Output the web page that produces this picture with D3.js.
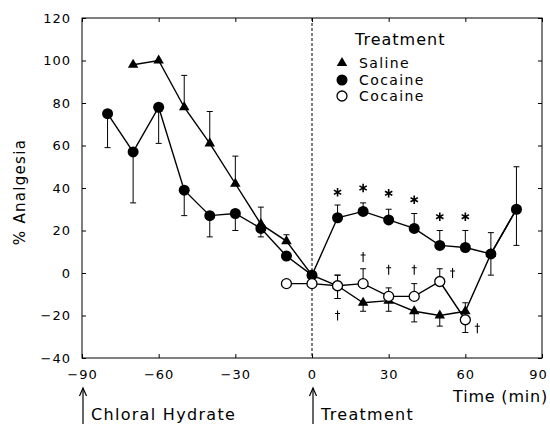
<!DOCTYPE html>
<meta charset="utf-8">
<style>
body { margin: 0; background: #fff; }
text { font-family: 'DejaVu Sans', sans-serif; fill: #000; }
.tick text { font-size: 13px; letter-spacing: 1px; }
.tick line { stroke: #000; }
</style>
<body>
<svg width="550" height="424"></svg>
<script src="https://cdn.jsdelivr.net/npm/d3@7"></script>
<script>

// tick labels
var xTicks = [-90, -60, -30, 0, 30, 60, 90];
var yTicks = [-40, -20, 0, 20, 40, 60, 80, 100, 120];

// saline (filled triangles)
var salineTime = [-70, -60, -50, -40, -30, -20, -10, 0, 10, 20, 30, 40, 50, 60, 70, 80];
var salineVal  = [98, 100, 78, 61, 42, 23, 15, -1, -6, -14, -13, -18, -20, -18, 9, 30];
var salineUp   = [0, 0, 15, 15, 13, 8, 3, 0, 5, 0, 0, 0, 0, 4, 0, 0];
var salineDown = [0, 0, 0, 0, 0, 0, 0, 0, 6, 4, 5, 5, 5, 0, 10, 0];

// cocaine (filled circles)
var cocaineTime = [-80, -70, -60, -50, -40, -30, -20, -10, 0, 10, 20, 30, 40, 50, 60, 70, 80];
var cocaineVal  = [75, 57, 78, 39, 27, 28, 21, 8, -1, 26, 29, 25, 21, 13, 12, 9, 30];
var cocaineUp   = [0, 0, 0, 0, 0, 0, 0, 0, 0, 6, 4, 5, 7, 7, 8, 10, 20];
var cocaineDown = [16, 24, 17, 12, 10, 8, 4, 0, 0, 0, 0, 0, 0, 0, 0, 0, 17];

// cocaine (open circles)
var openTime = [-10, 0, 10, 20, 30, 40, 50, 60];
var openVal  = [-5, -5, -6, -5, -11, -11, -4, -22];
var openUp   = [0, 0, 5, 7, 4, 6, 6, 0];
var openDown = [0, 0, 6, 0, 0, 0, 0, 6];

// significance marks
var starTime = [10, 20, 30, 40, 50, 60];
var starVal  = [38, 40, 37.5, 34.5, 26.5, 26.5];
var daggerTime = [10, 20, 30, 40, 55, 64.7];
var daggerVal  = [-20, 7.5, 1.5, 1.5, 0, -26];

var legendLabels = ["Saline", "Cocaine", "Cocaine"];

var svg = d3.select("svg");
var pl = 82, pr = 542, pt = 18, pb = 358;

var x = d3.scaleLinear().domain([-90, 90]).range([pl, pr]);
var y = d3.scaleLinear().domain([-40, 120]).range([pb, pt]);

var fmt = function(d) { return d < 0 ? "\u2212" + Math.abs(d) : d; };

// axes, ticks pointing in
var xg = svg.append("g").attr("transform", "translate(0," + pb + ")")
    .call(d3.axisBottom(x).tickValues(xTicks).tickFormat(fmt).tickSize(-4).tickPadding(12))
    .call(function(g) { g.select(".domain").remove(); });
xg.selectAll(".tick text").filter(function(d) { return d === 90; }).attr("dx", -4);
svg.append("g").attr("transform", "translate(0," + pt + ")")
    .call(d3.axisTop(x).tickValues(xTicks).tickFormat("").tickSize(-4))
    .call(function(g) { g.select(".domain").remove(); });
svg.append("g").attr("transform", "translate(" + pl + ",0)")
    .call(d3.axisLeft(y).tickValues(yTicks).tickFormat(fmt).tickSize(-4).tickPadding(11))
    .call(function(g) { g.select(".domain").remove(); });
svg.append("g").attr("transform", "translate(" + pr + ",0)")
    .call(d3.axisRight(y).tickValues(yTicks).tickFormat("").tickSize(-4))
    .call(function(g) { g.select(".domain").remove(); });

svg.selectAll("text").attr("font-family", "DejaVu Sans");

svg.append("rect")
    .attr("x", pl).attr("y", pt)
    .attr("width", pr - pl).attr("height", pb - pt)
    .attr("fill", "none").attr("stroke", "#000").attr("stroke-width", 1);

// dashed line at treatment
svg.append("line")
    .attr("x1", x(0)).attr("x2", x(0))
    .attr("y1", pt).attr("y2", pb)
    .attr("stroke", "#000").attr("stroke-dasharray", "3,2");

function series(time, val, up, down) {
  return time.map(function(t, i) { return {t: t, v: val[i], up: up[i], down: down[i]}; });
}
var saline = series(salineTime, salineVal, salineUp, salineDown);
var cocaine = series(cocaineTime, cocaineVal, cocaineUp, cocaineDown);
var open = series(openTime, openVal, openUp, openDown);

var line = d3.line().x(function(d) { return x(d.t); }).y(function(d) { return y(d.v); });

function errorBars(data) {
  var g = svg.append("g").attr("stroke", "#000").attr("stroke-width", 1);
  data.forEach(function(d) {
    [d.up, -d.down].forEach(function(e) {
      if (!e) return;
      var ye = y(d.v + e);
      g.append("line").attr("x1", x(d.t)).attr("x2", x(d.t)).attr("y1", y(d.v)).attr("y2", ye);
      g.append("line").attr("x1", x(d.t) - 3).attr("x2", x(d.t) + 3).attr("y1", ye).attr("y2", ye);
    });
  });
}

errorBars(saline);
errorBars(cocaine);
errorBars(open);

[saline, cocaine, open].forEach(function(s) {
  svg.append("path").datum(s)
      .attr("d", line)
      .attr("fill", "none").attr("stroke", "#000").attr("stroke-width", 1.4);
});

var tri = d3.symbol().type(d3.symbolTriangle).size(48);

svg.append("g").selectAll("path").data(saline).enter().append("path")
    .attr("d", tri)
    .attr("transform", function(d) { return "translate(" + x(d.t) + "," + y(d.v) + ")"; })
    .attr("fill", "#000");

svg.append("g").selectAll("circle").data(cocaine).enter().append("circle")
    .attr("cx", function(d) { return x(d.t); })
    .attr("cy", function(d) { return y(d.v); })
    .attr("r", 5.5).attr("fill", "#000");

svg.append("g").selectAll("circle").data(open).enter().append("circle")
    .attr("cx", function(d) { return x(d.t); })
    .attr("cy", function(d) { return y(d.v); })
    .attr("r", 5).attr("fill", "#fff").attr("stroke", "#000").attr("stroke-width", 1.3);

// asterisks and daggers
var star = d3.symbol().type(d3.symbolAsterisk).size(50);
svg.append("g").selectAll("path").data(starTime).enter().append("path")
    .attr("d", star)
    .attr("transform", function(d, i) { return "translate(" + x(d) + "," + y(starVal[i]) + ")"; })
    .attr("fill", "none").attr("stroke", "#000").attr("stroke-width", 1.6);

// dagger drawn as a small cross
svg.append("g").selectAll("path").data(daggerTime).enter().append("path")
    .attr("transform", function(d, i) { return "translate(" + x(d) + "," + y(daggerVal[i]) + ")"; })
    .attr("d", "M0,-5V5M-2.5,-2H2.5")
    .attr("fill", "none").attr("stroke", "#000").attr("stroke-width", 1.1);

// legend
var lg = svg.append("g");
lg.append("text").attr("x", 355).attr("y", 45)
    .attr("font-size", 16).attr("letter-spacing", 1).text("Treatment");
var ly = [63, 80, 96];
lg.append("path").attr("d", tri).attr("transform", "translate(342," + ly[0] + ")").attr("fill", "#000");
lg.append("circle").attr("cx", 342).attr("cy", ly[1]).attr("r", 5.5).attr("fill", "#000");
lg.append("circle").attr("cx", 342).attr("cy", ly[2]).attr("r", 5)
    .attr("fill", "#fff").attr("stroke", "#000").attr("stroke-width", 1.3);
lg.selectAll("text.item").data(legendLabels).enter().append("text")
    .attr("class", "item")
    .attr("x", 359).attr("y", function(d, i) { return ly[i] + 5; })
    .attr("font-size", 14).attr("letter-spacing", 1.4)
    .text(function(d) { return d; });

// axis titles
svg.append("text")
    .attr("transform", "translate(25,192) rotate(-90)")
    .attr("text-anchor", "middle")
    .attr("font-size", 15).attr("letter-spacing", 1.3)
    .text("% Analgesia");

svg.append("text")
    .attr("x", 548).attr("y", 402)
    .attr("text-anchor", "end")
    .attr("font-size", 16).attr("letter-spacing", 0.8)
    .text("Time (min)");

// event arrows
function arrow(t, label) {
  var ax = x(t) + 1;
  var g = svg.append("g").attr("stroke", "#000").attr("stroke-width", 1.2).attr("fill", "none");
  g.append("line").attr("x1", ax).attr("x2", ax).attr("y1", 388).attr("y2", 424);
  g.append("path").attr("d", "M" + (ax - 3.5) + ",396L" + ax + ",388L" + (ax + 3.5) + ",396");
  svg.append("text").attr("x", ax + 8).attr("y", 420)
      .attr("font-size", 16).attr("letter-spacing", 1.3).text(label);
}
arrow(-90, "Chloral Hydrate");
arrow(0, "Treatment");

</script>
